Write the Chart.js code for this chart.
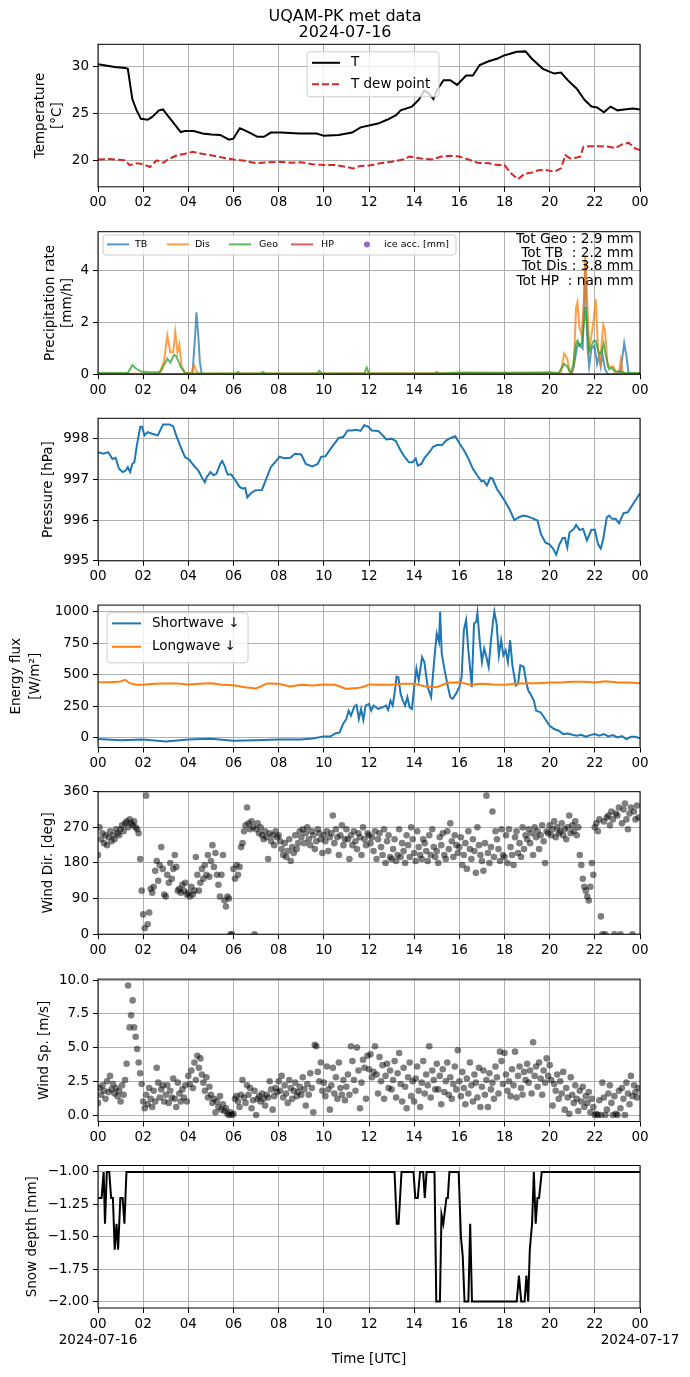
<!DOCTYPE html>
<html>
<head>
<meta charset="utf-8">
<script src="https://cdn.jsdelivr.net/npm/chart.js@4.4.1/dist/chart.umd.min.js"></script>
<style>
  html, body { margin: 0; padding: 0; background: #fff; }
  #fig { position: relative; width: 690px; height: 1377px; overflow: hidden; }
  #fig canvas { position: absolute; left: 0; }
</style>
</head>
<body>
<div id="fig"></div>
<script>
// ---- data (hours since 2024-07-16 00 UTC) ----
const hourTicks = [0, 2, 4, 6, 8, 10, 12, 14, 16, 18, 20, 22, 24];
const startDate = '2024-07-16';
const endDate = '2024-07-17';

// temperature panel
const tempTicks = [20, 25, 30];
const tempHours = [0,0.74,1.2,1.32,1.52,1.71,1.9,2.2,2.4,2.7,2.88,3.07,3.37,3.66,3.85,4.24,4.63,5.02,5.41,5.8,5.99,6.28,6.48,6.77,7.06,7.35,7.65,8.13,8.9,9.69,10.0,10.66,11.25,11.63,12.0,12.4,12.8,13.2,13.4,13.9,14.2,14.45,14.65,14.85,15.0,15.3,15.6,15.9,16.3,16.6,16.9,17.3,17.7,17.96,18.25,18.54,18.93,19.2,19.7,20.2,20.5,20.8,21.2,21.55,21.85,22.1,22.4,22.7,23.0,23.3,23.7,24];
const tempT = [30.2,29.9,29.8,29.7,26.5,25.3,24.4,24.3,24.6,25.3,25.4,24.8,23.9,23.0,23.1,23.1,22.85,22.75,22.7,22.2,22.3,23.4,23.2,22.85,22.5,22.5,22.95,22.95,22.85,22.85,22.6,22.7,22.95,23.5,23.7,23.9,24.3,24.8,25.3,25.7,26.4,27.4,27.1,26.5,27.4,28.5,28.5,28.0,29.0,29.0,30.1,30.5,30.8,31.1,31.3,31.5,31.55,30.8,29.7,29.2,29.3,28.5,27.6,26.4,25.7,25.6,25.1,25.7,25.3,25.4,25.5,25.4];
const dewHours = [0,0.5,1.2,1.4,1.7,2.0,2.3,2.6,2.9,3.1,3.5,3.85,4.2,4.6,5.0,5.5,6.0,6.5,7.0,7.5,8.0,8.5,9.0,9.5,10.0,10.5,11.0,11.3,11.6,12.0,12.5,13.0,13.5,13.8,14.3,14.8,15.2,15.6,16.0,16.4,16.8,17.3,17.7,18.0,18.3,18.6,18.9,19.2,19.5,19.8,20.2,20.5,20.7,20.9,21.2,21.35,21.5,21.8,22.2,22.6,22.9,23.2,23.5,23.8,24];
const dewT = [20.1,20.15,20.0,19.5,19.7,19.6,19.3,20.0,19.75,20.1,20.55,20.7,20.9,20.7,20.55,20.3,20.1,19.95,19.7,19.8,19.85,19.75,19.8,19.6,19.5,19.5,19.3,19.15,19.4,19.45,19.7,19.85,20.1,20.4,20.2,20.1,20.4,20.5,20.4,20.1,19.75,19.7,19.5,19.5,18.6,18.0,18.6,18.7,18.95,19.0,18.8,19.15,20.55,20.2,20.3,20.4,21.45,21.5,21.5,21.45,21.3,21.7,21.85,21.25,21.1];

// precipitation panel [mm/h]
const precipTicks = [0, 2, 4];
const tbHours = [0,4.18,4.28,4.36,4.44,4.51,4.59,20.97,21.07,21.2,21.28,21.36,21.46,21.58,21.68,21.75,21.85,21.98,22.1,22.18,22.26,22.33,22.45,22.57,23.12,23.3,23.4,23.5,24];
const tbRate = [0,0,1.2,2.4,1.5,0.5,0,0,0.3,1.0,1.2,1.1,1.0,4.3,1.0,0.3,1.0,1.1,0.4,0.7,0.3,0.8,0.2,0,0,1.2,0.7,0,0];
const disHours = [0,2.6,2.72,2.92,3.07,3.2,3.33,3.42,3.52,3.6,3.7,3.85,4.15,4.24,4.34,4.44,20.0,20.16,20.49,20.64,20.78,20.88,20.97,21.07,21.17,21.23,21.32,21.42,21.52,21.58,21.64,21.75,21.85,21.95,22.04,22.14,22.24,22.37,22.45,22.57,22.72,22.82,22.92,23.07,23.15,23.23,23.3,24];
const disRate = [0.02,0.02,0.05,0.5,1.5,0.85,0.85,1.65,0.85,1.15,0.3,0.05,0.05,0.38,0.15,0.02,0.05,0.02,0.05,0.8,0.6,0.1,0.02,0.4,2.6,2.8,1.8,1.5,3.0,4.6,3.3,1.0,1.5,2.1,2.9,1.0,0.5,1.9,1.7,0.3,0.3,0.3,0.1,0.05,0.55,0.1,0.02,0.02];
const geoHours = [0,1.32,1.52,1.71,1.9,2.3,2.6,2.78,2.98,3.07,3.2,3.37,3.46,3.56,3.66,3.85,4.05,6.1,6.2,6.3,7.2,7.3,7.4,9.7,9.8,9.9,11.8,11.9,12.0,14.9,15.0,15.1,16.0,17.9,19.5,20.0,20.4,20.64,20.78,20.92,21.03,21.17,21.23,21.32,21.42,21.52,21.58,21.64,21.75,21.85,21.95,22.04,22.18,22.28,22.39,22.49,22.63,22.76,22.88,23.02,23.15,23.3,24];
const geoRate = [0.05,0.05,0.35,0.2,0.1,0.08,0.08,0.1,0.45,0.6,0.45,0.75,0.7,0.5,0.3,0.05,0.03,0.03,0.09,0.03,0.03,0.09,0.03,0.03,0.13,0.03,0.03,0.25,0.04,0.03,0.09,0.03,0.07,0.06,0.07,0.08,0.05,0.4,0.3,0.05,0.3,1.2,1.3,1.1,1.2,2.0,2.6,2.0,0.9,1.1,1.3,1.3,0.8,0.8,1.2,0.7,0.2,0.25,0.1,0.1,0.1,0.05,0.05];
const hpHours = [0, 24];
const hpRate = [0, 0];
const iceHours = [];
const iceAcc = [];
const totalLines = ['Tot Geo : 2.9 mm', 'Tot TB  : 2.2 mm', 'Tot Dis : 3.8 mm', 'Tot HP  : nan mm'];

// pressure panel [hPa]
const presTicks = [995, 996, 997, 998];
const presHours = [0,0.25,0.45,0.64,0.78,0.93,1.09,1.23,1.32,1.42,1.52,1.61,1.71,1.87,1.95,2.06,2.2,2.4,2.65,2.88,3.17,3.33,3.46,3.66,3.85,4.05,4.24,4.44,4.59,4.73,4.82,4.98,5.12,5.25,5.41,5.5,5.6,5.74,5.9,6.09,6.28,6.42,6.52,6.61,6.77,6.96,7.26,7.45,7.65,7.84,8.04,8.23,8.52,8.72,9.0,9.2,9.49,9.73,9.88,10.08,10.27,10.47,10.66,10.86,11.05,11.25,11.44,11.63,11.79,11.98,12.12,12.41,12.61,12.76,13.0,13.19,13.4,13.58,13.77,13.93,14.07,14.16,14.32,14.46,14.65,14.84,15.04,15.23,15.43,15.62,15.82,16.01,16.21,16.4,16.6,16.79,16.98,17.08,17.22,17.37,17.47,17.66,17.86,18.05,18.25,18.44,18.64,18.83,19.03,19.22,19.46,19.61,19.81,20.0,20.16,20.29,20.43,20.58,20.68,20.78,20.88,21.07,21.17,21.32,21.48,21.65,21.85,22.0,22.14,22.26,22.37,22.53,22.63,22.76,22.92,23.07,23.27,23.46,23.7,24];
const presHpa = [997.67,997.63,997.67,997.5,997.53,997.26,997.18,997.22,997.3,997.18,997.38,997.42,997.8,998.29,998.29,998.08,998.16,998.12,998.08,998.35,998.35,998.3,998.08,997.8,997.55,997.48,997.34,997.22,997.06,996.93,997.06,997.18,997.1,997.14,997.38,997.45,997.34,997.12,997.12,996.97,996.81,996.77,996.79,996.56,996.66,996.73,996.74,997.01,997.3,997.42,997.56,997.52,997.53,997.63,997.61,997.38,997.32,997.38,997.55,997.57,997.73,997.88,998.02,998.04,998.2,998.2,998.22,998.19,998.33,998.29,998.2,998.19,998.08,997.98,998.0,997.94,997.71,997.55,997.42,997.42,997.51,997.34,997.38,997.53,997.65,997.8,997.85,997.84,997.96,998.02,998.06,997.88,997.71,997.51,997.26,997.1,996.95,996.97,996.85,997.04,997.02,996.77,996.6,996.44,996.23,996.0,996.07,996.11,996.09,996.05,995.99,995.66,995.45,995.4,995.29,995.15,995.4,995.56,995.56,995.33,995.7,995.78,995.88,995.76,995.78,995.5,995.76,995.76,995.41,995.3,995.53,996.07,996.11,996.03,996.03,995.92,996.17,996.19,996.4,996.66];

// energy flux panel [W/m2]
const fluxTicks = [0, 250, 500, 750, 1000];
const swHours = [0,1,2,3,4,5,6,7,8,9,9.5,10,10.3,10.5,10.7,10.85,11.0,11.1,11.2,11.35,11.45,11.55,11.65,11.75,11.85,12.0,12.1,12.2,12.4,12.6,12.75,12.85,12.95,13.05,13.15,13.22,13.3,13.4,13.5,13.6,13.7,13.8,13.9,14.0,14.1,14.2,14.35,14.45,14.6,14.75,14.9,15.0,15.1,15.15,15.22,15.35,15.5,15.6,15.7,15.85,16.0,16.1,16.2,16.3,16.4,16.5,16.55,16.65,16.75,16.8,16.9,17.0,17.1,17.2,17.3,17.4,17.5,17.55,17.65,17.75,17.85,17.95,18.05,18.15,18.25,18.35,18.5,18.6,18.7,18.85,18.95,19.05,19.15,19.3,19.4,19.6,19.8,20.0,20.2,20.4,20.6,20.8,21.0,21.2,21.4,21.6,21.8,22.0,22.2,22.4,22.6,22.8,23.0,23.2,23.4,23.6,23.8,24];
const swFlux = [-10,-19,-13,-29,-13,-8,-24,-19,-13,-13,-5,11,11,34,42,109,149,215,175,247,260,149,228,141,255,268,215,255,228,241,255,220,294,255,374,485,480,347,294,255,321,241,228,400,546,453,639,600,400,321,639,825,759,997,666,533,400,321,308,347,400,480,851,931,692,507,400,904,918,989,772,600,706,639,560,772,931,997,904,653,772,653,692,600,772,573,414,427,573,560,453,374,347,294,215,202,149,95,69,56,29,34,24,16,24,8,21,29,16,29,11,21,3,13,-10,8,8,-5];
const lwHours = [0,0.5,1.0,1.2,1.4,1.7,2.0,2.5,3,3.5,4,4.5,5,5.5,6,6.5,7,7.5,8,8.5,9,9.5,10,10.5,11,11.5,11.8,12,12.5,13,13.5,14,14.5,15,15.5,16,16.5,17,17.5,18,18.5,19,19.5,20,20.5,21,21.5,22,22.5,23,23.5,24];
const lwFlux = [440,440,446,459,432,419,419,427,430,430,422,427,432,419,416,400,390,430,427,406,419,414,422,419,387,393,406,422,419,419,427,427,406,400,435,440,419,427,422,419,427,432,432,438,438,443,443,438,448,438,438,432];

// wind, one sample every 4 minutes from 00:00
const WIND_STEP_MIN = 4;
const windDirTicks = [0, 90, 180, 270, 360];
const windDir = [
  200,270,240,255,230,250,225,245,260,235,250,240,265,255,250,
  265,275,260,280,285,270,290,280,275,285,270,265,255,190,110,
  50,15,350,25,55,115,105,120,160,185,135,175,220,165,100,
  95,150,130,180,140,165,200,170,110,115,105,125,110,130,100,
  105,95,120,100,110,195,150,110,130,165,140,175,150,200,145,
  185,225,170,205,150,125,95,150,200,85,70,95,90,0,0,
  165,140,175,150,170,220,230,260,275,320,280,265,285,270,0,
  265,280,255,270,250,240,260,245,190,255,235,250,225,260,245,
  250,235,215,200,230,195,210,240,185,220,205,250,215,230,260,
  245,265,230,255,270,240,225,260,250,215,235,265,255,240,205,
  250,235,260,210,245,255,300,230,265,245,200,250,275,225,240,
  265,240,190,250,225,260,235,215,255,245,200,270,240,225,255,
  250,230,245,210,260,190,240,255,220,200,265,180,235,250,195,
  190,215,240,185,200,265,195,230,210,180,250,225,195,270,240,
  205,185,260,220,200,190,240,230,210,185,250,200,265,220,195,
  210,180,245,225,255,200,190,260,215,280,235,195,250,225,205,
  220,245,175,200,230,165,260,215,190,240,210,155,270,225,200,
  185,160,230,350,205,180,220,310,195,260,240,215,185,265,200,
  195,250,180,265,220,200,175,245,260,205,230,195,270,215,250,
  240,265,230,255,200,270,245,260,215,250,275,235,180,260,255,
  275,250,265,285,245,270,255,260,280,250,265,240,270,300,255,
  275,260,285,250,270,200,175,140,120,110,95,85,120,180,150,
  270,280,260,290,45,0,285,0,295,300,275,310,290,0,305,
  300,320,0,280,315,330,290,265,305,320,0,310,290,325,295
];
const windSpTicks = [0, 2.5, 5, 7.5, 10];
const windSpeed = [
  0.9,2.0,1.5,2.2,1.8,1.2,2.5,1.7,2.9,1.9,2.3,1.6,2.0,1.4,1.8,
  1.0,2.2,1.5,2.6,3.8,9.6,6.5,7.4,8.5,6.5,5.8,4.9,3.9,3.1,2.3,
  1.0,0.5,1.5,0.8,2.0,1.2,0.6,1.8,1.0,3.5,2.4,1.3,1.9,2.2,1.0,
  1.5,2.2,0.9,1.8,1.3,2.7,1.2,0.6,2.4,1.6,1.0,1.9,1.3,2.2,1.0,
  2.9,2.3,3.3,2.0,3.9,2.6,4.4,3.5,4.2,3.0,2.4,1.8,2.8,1.3,2.1,
  1.5,0.9,1.2,0.2,1.0,0.6,1.4,0.4,0.8,0.3,0.5,0.1,0.0,0.2,0.0,
  0.1,1.2,1.4,1.0,0.6,1.5,2.6,1.3,0.9,2.2,1.5,2.0,0.5,1.1,1.8,
  0.0,1.2,1.4,1.0,1.6,1.2,0.7,1.5,1.3,2.5,1.9,0.4,1.4,2.0,1.7,
  2.5,1.8,2.9,1.3,2.2,1.6,0.9,2.6,2.0,1.2,1.8,2.4,1.4,1.7,2.1,
  1.5,2.8,1.9,0.7,2.3,1.5,3.1,2.0,0.2,5.2,5.1,3.2,2.5,3.9,1.8,
  2.4,1.4,3.6,1.9,0.4,2.2,3.5,1.6,2.8,1.2,3.9,2.0,1.5,2.6,1.1,
  2.1,3.0,1.5,5.1,4.0,2.6,1.8,5.0,3.3,0.5,2.4,4.1,3.5,1.2,4.4,
  3.4,4.5,2.8,3.2,5.1,3.0,1.6,4.3,2.5,3.7,1.2,2.9,3.8,2.0,3.3,
  1.9,2.6,4.0,1.3,3.1,4.6,2.3,1.0,3.5,2.1,0.5,2.8,3.9,1.4,2.5,
  1.0,2.7,3.6,1.8,0.6,2.4,4.0,1.6,3.0,2.2,5.1,1.3,3.3,2.6,1.9,
  3.8,1.9,2.9,0.8,3.4,1.7,2.5,3.9,1.5,2.8,1.2,2.3,3.6,1.9,4.8,
  2.5,1.4,3.2,2.0,0.8,2.7,1.6,3.9,2.2,1.0,3.0,2.4,1.3,3.5,0.6,
  2.1,3.3,1.5,2.6,0.6,3.1,1.9,2.4,1.2,3.6,2.8,1.6,4.7,4.0,2.3,
  4.6,3.0,1.8,2.5,1.4,3.4,2.2,4.7,1.3,2.9,3.6,2.0,1.5,3.2,2.6,
  3.8,2.4,3.3,1.6,5.4,2.9,3.6,2.1,3.9,2.7,1.5,3.3,2.4,4.2,2.9,
  3.7,2.6,0.7,2.3,1.8,3.0,1.2,2.5,1.6,3.2,0.4,2.0,1.3,0.1,2.8,
  1.5,0.9,2.2,1.2,0.3,1.8,1.0,2.1,0.6,1.4,0.9,1.7,0.2,1.2,0.6,
  0.0,0.1,0.0,1.1,0.0,2.4,1.3,0.0,0.4,1.6,2.2,0.9,0.0,1.4,0.1,
  0.0,1.8,0.5,2.0,1.2,0.0,2.4,1.6,0.8,2.9,1.4,2.2,1.7,1.3,2.0
];

// snow depth panel [mm]
const snowTicks = [-2.0, -1.75, -1.5, -1.25, -1.0];
const snowHours = [0,0.16,0.25,0.31,0.39,0.5,0.58,0.66,0.74,0.82,0.89,0.99,1.09,1.17,1.26,13.13,13.23,13.31,13.44,13.97,14.05,14.16,14.26,14.4,14.47,14.55,14.9,14.98,15.14,15.21,15.29,15.43,15.49,15.56,15.97,16.07,16.15,16.23,16.4,16.48,16.56,18.54,18.64,18.74,18.89,18.97,19.05,19.12,19.22,19.3,19.38,19.46,19.53,19.65,24];
const snowDepth = [-1.2,-1.2,-1.0,-1.4,-1.0,-1.0,-1.2,-1.2,-1.6,-1.4,-1.6,-1.2,-1.2,-1.4,-1.0,-1.0,-1.4,-1.4,-1.0,-1.0,-1.2,-1.2,-1.0,-1.0,-1.2,-1.0,-1.0,-2.0,-2.0,-1.33,-1.4,-1.2,-1.2,-1.0,-1.0,-1.5,-1.65,-2.0,-2.0,-1.4,-2.0,-2.0,-1.8,-2.0,-2.0,-1.8,-2.0,-1.6,-1.4,-1.0,-1.4,-1.2,-1.2,-1.0,-1.0];

// ---- styling ----
const C_BLUE = '#1f77b4', C_ORANGE = '#ff7f0e', C_GREEN = '#2ca02c', C_RED = '#d62728', C_PURPLE = '#9467bd';
const FONT = '"DejaVu Sans", sans-serif';
const FIG_W = 690, AX_LEFT = 98, AX_RIGHT = 640;
const plotTops = [44.3, 231.7, 418.3, 605, 791.7, 979, 1165.5];
const PLOT_H = 142.5;

Chart.defaults.font.family = FONT;
Chart.defaults.font.size = 13.5;
Chart.defaults.color = '#000';

function alpha(hex, a) {
  const n = parseInt(hex.slice(1), 16);
  return `rgba(${n >> 16},${(n >> 8) & 255},${n & 255},${a})`;
}
const xy = (hours, vals) => hours.map((h, i) => ({ x: h, y: vals[i] }));
const windXY = vals => vals.map((v, i) => ({ x: i * WIND_STEP_MIN / 60, y: v }));
const pad2 = v => String(v % 24).padStart(2, '0');

function lineSet(label, data, color, extra) {
  return Object.assign({ type: 'line', label, data, borderColor: color, borderWidth: 2,
    pointRadius: 0, tension: 0, fill: false }, extra || {});
}
function dotSet(label, data) {
  return { type: 'scatter', label, data, showLine: false, pointRadius: 3.3,
    pointBackgroundColor: 'rgba(0,0,0,0.5)', pointBorderColor: 'rgba(0,0,0,0.5)',
    pointBorderWidth: 0, clip: 0 };
}

function roundRect(ctx, x, y, w, h, r) {
  ctx.beginPath();
  ctx.moveTo(x + r, y);
  ctx.arcTo(x + w, y, x + w, y + h, r);
  ctx.arcTo(x + w, y + h, x, y + h, r);
  ctx.arcTo(x, y + h, x, y, r);
  ctx.arcTo(x, y, x + w, y, r);
  ctx.closePath();
}

// spines, axis labels, legends, annotations
const decor = {
  id: 'decor',
  afterDraw(chart, args, o) {
    const ctx = chart.ctx, a = chart.chartArea;
    ctx.save();
    ctx.strokeStyle = '#000';
    ctx.lineWidth = 1;
    ctx.strokeRect(a.left, a.top, a.right - a.left, a.bottom - a.top);
    ctx.fillStyle = '#000';
    ctx.textAlign = 'center';
    ctx.textBaseline = 'middle';
    ctx.font = '13.5px ' + FONT;
    const cy = (a.top + a.bottom) / 2;
    (o.ylabel || []).forEach(l => {
      ctx.save();
      ctx.translate(l.x, cy);
      ctx.rotate(-Math.PI / 2);
      ctx.fillText(l.text, 0, 0);
      ctx.restore();
    });
    if (o.title) {
      ctx.font = '16px ' + FONT;
      o.title.forEach(t => ctx.fillText(t.text, 345, t.y));
    }
    if (o.xlabel) {
      ctx.font = '13.5px ' + FONT;
      ctx.fillText(o.xlabel, (a.left + a.right) / 2, a.bottom + 51);
    }
    if (o.legend) {
      const L = o.legend;
      roundRect(ctx, L.x, a.top + L.y, L.w, L.h, 3);
      ctx.fillStyle = 'rgba(255,255,255,0.8)';
      ctx.fill();
      ctx.strokeStyle = '#cccccc';
      ctx.stroke();
      ctx.font = L.size + 'px ' + FONT;
      ctx.textAlign = 'left';
      L.items.forEach(it => {
        const y = a.top + it.y;
        if (it.dot) {
          ctx.beginPath();
          ctx.arc((it.h1 + it.h2) / 2, y, 3, 0, Math.PI * 2);
          ctx.fillStyle = it.color;
          ctx.fill();
        } else {
          ctx.beginPath();
          ctx.setLineDash(it.dash || []);
          ctx.strokeStyle = it.color;
          ctx.lineWidth = 2;
          ctx.moveTo(it.h1, y);
          ctx.lineTo(it.h2, y);
          ctx.stroke();
          ctx.setLineDash([]);
        }
        ctx.fillStyle = '#000';
        ctx.fillText(it.label, it.tx, y);
      });
    }
    if (o.texts) {
      ctx.font = o.texts.size + 'px ' + FONT;
      ctx.textAlign = 'right';
      ctx.fillStyle = '#000';
      o.texts.lines.forEach((t, i) => ctx.fillText(t, o.texts.x, a.top + o.texts.ys[i]));
    }
    ctx.restore();
  }
};

const fig = document.getElementById('fig');

function panel(i, datasets, yMin, yMax, yTicks, yFmt, decorOpts) {
  const last = i === plotTops.length - 1;
  const canvasTop = i === 0 ? 0 : Math.floor(plotTops[i] - 12);
  const padTop = plotTops[i] - canvasTop;
  const xH = last ? 62 : 30;
  const H = Math.ceil(padTop + PLOT_H + xH);
  const c = document.createElement('canvas');
  c.width = FIG_W;
  c.height = H;
  c.style.top = canvasTop + 'px';
  fig.appendChild(c);
  new Chart(c, {
    type: 'line',
    data: { datasets },
    plugins: [decor],
    options: {
      responsive: false,
      animation: false,
      events: [],
      layout: { padding: { left: 0, right: FIG_W - AX_RIGHT, top: padTop, bottom: H - padTop - PLOT_H - xH } },
      plugins: { legend: { display: false }, tooltip: { enabled: false }, decor: decorOpts },
      scales: {
        x: {
          type: 'linear', min: 0, max: 24,
          afterBuildTicks: s => { s.ticks = hourTicks.map(v => ({ value: v })); },
          afterFit: s => { s.height = xH; },
          ticks: {
            autoSkip: false, maxRotation: 0, padding: 3,
            callback: v => {
              if (last && v === 0) return [pad2(v), startDate];
              if (last && v === 24) return [pad2(v), endDate];
              return pad2(v);
            }
          },
          grid: { color: '#b0b0b0', lineWidth: 1, tickColor: '#000', tickLength: 5 },
          border: { display: false }
        },
        y: {
          type: 'linear', min: yMin, max: yMax,
          afterBuildTicks: s => { s.ticks = yTicks.map(v => ({ value: v })); },
          afterFit: s => { s.width = AX_LEFT; },
          ticks: { padding: 4, callback: yFmt },
          grid: { color: '#b0b0b0', lineWidth: 1, tickColor: '#000', tickLength: 5 },
          border: { display: false }
        }
      }
    }
  });
}

const intFmt = v => String(Math.round(v)).replace('-', '\u2212');

// 1. temperature
panel(0, [
  lineSet('T dew point', xy(dewHours, dewT), C_RED, { borderDash: [7, 3] }),
  lineSet('T', xy(tempHours, tempT), '#000')
], 17.2, 32.3, tempTicks, intFmt, {
  title: [{ text: 'UQAM-PK met data', y: 16.7 }, { text: startDate, y: 33.3 }],
  ylabel: [{ text: 'Temperature', x: 40 }, { text: '[\u00b0C]', x: 57 }],
  legend: { x: 307, y: 7.5, w: 132, h: 45, size: 13.5, items: [
    { label: 'T', color: '#000', h1: 312, h2: 340, tx: 351, y: 18.5 },
    { label: 'T dew point', color: C_RED, dash: [7, 3], h1: 312, h2: 340, tx: 351, y: 40 }
  ] }
});

// 2. precipitation
const pa = 0.75;
panel(1, [
  dotSet('ice acc. [mm]', xy(iceHours, iceAcc)),
  lineSet('HP', xy(hpHours, hpRate), alpha(C_RED, pa)),
  lineSet('Geo', xy(geoHours, geoRate), alpha(C_GREEN, pa)),
  lineSet('Dis', xy(disHours, disRate), alpha(C_ORANGE, pa)),
  lineSet('TB', xy(tbHours, tbRate), alpha(C_BLUE, pa))
], 0, 5.52, precipTicks, intFmt, {
  ylabel: [{ text: 'Precipitation rate', x: 50 }, { text: '[mm/h]', x: 67 }],
  legend: { x: 103, y: 3.3, w: 353, h: 20, size: 9.5, items: [
    { label: 'TB', color: alpha(C_BLUE, pa), h1: 107, h2: 129, tx: 135, y: 12.7 },
    { label: 'Dis', color: alpha(C_ORANGE, pa), h1: 167, h2: 189, tx: 195, y: 12.7 },
    { label: 'Geo', color: alpha(C_GREEN, pa), h1: 229, h2: 251, tx: 259, y: 12.7 },
    { label: 'HP', color: alpha(C_RED, pa), h1: 291, h2: 313, tx: 321, y: 12.7 },
    { label: 'ice acc. [mm]', color: C_PURPLE, dot: true, h1: 356, h2: 378, tx: 384, y: 12.7 }
  ] },
  texts: { size: 13.7, x: 633.5, ys: [7.6, 21.6, 35, 49.3], lines: totalLines }
});

// 3. pressure
panel(2, [lineSet('Pressure', xy(presHours, presHpa), C_BLUE)],
  995, 998.5, presTicks, intFmt, { ylabel: [{ text: 'Pressure [hPa]', x: 48 }] });

// 4. energy flux
panel(3, [
  lineSet('Longwave', xy(lwHours, lwFlux), C_ORANGE),
  lineSet('Shortwave', xy(swHours, swFlux), C_BLUE)
], -77, 1050, fluxTicks, intFmt, {
  ylabel: [{ text: 'Energy flux', x: 16 }, { text: '[W/m\u00b2]', x: 35 }],
  legend: { x: 107, y: 7.7, w: 141, h: 50, size: 13.5, items: [
    { label: 'Shortwave \u2193', color: C_BLUE, h1: 112, h2: 141, tx: 152, y: 18.3 },
    { label: 'Longwave \u2193', color: C_ORANGE, h1: 112, h2: 141, tx: 152, y: 41.7 }
  ] }
});

// 5. wind direction
panel(4, [dotSet('Wind Dir.', windXY(windDir))],
  0, 360, windDirTicks, intFmt, { ylabel: [{ text: 'Wind Dir. [deg]', x: 48 }] });

// 6. wind speed
panel(5, [dotSet('Wind Sp.', windXY(windSpeed))],
  -0.48, 10.08, windSpTicks, v => v.toFixed(1), { ylabel: [{ text: 'Wind Sp. [m/s]', x: 44 }] });

// 7. snow depth
panel(6, [lineSet('Snow depth', xy(snowHours, snowDepth), '#000')],
  -2.05, -0.95, snowTicks, v => v.toFixed(2).replace('-', '\u2212'), {
  ylabel: [{ text: 'Snow depth [mm]', x: 32 }],
  xlabel: 'Time [UTC]'
});
</script>
</body>
</html>
